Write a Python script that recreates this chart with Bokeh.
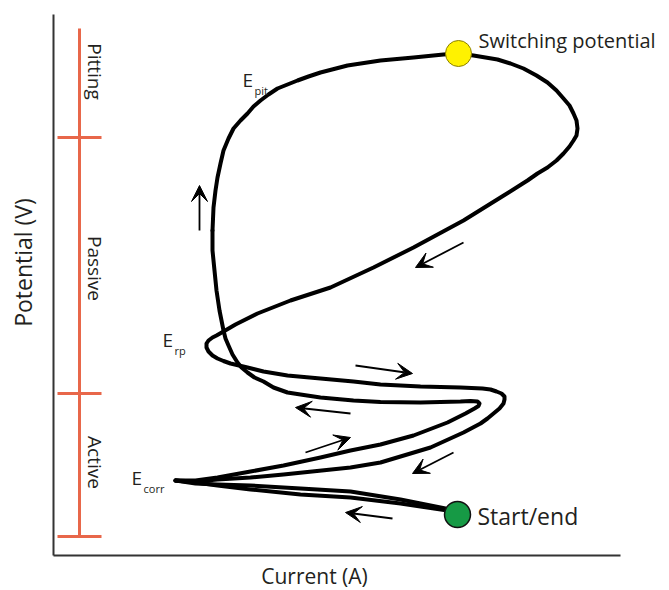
import math
from bokeh.plotting import figure
from bokeh.models import Range1d, Arrow, VeeHead
from bokeh.core.properties import value
from bokeh.embed import file_html
from bokeh.resources import INLINE

# ---- schematic data (current, potential in arbitrary units) ----
forward_start_i = [447, 420, 400, 350, 300, 250, 217, 195, 175]
forward_start_e = [80, 84, 87, 93, 96, 101, 105, 108, 110]

forward_active_i = [175, 195, 217, 250, 283, 320, 350, 380, 413, 447, 465, 474, 478, 479, 477, 470, 460,
                    420, 380, 353, 320, 300, 287, 273, 263, 254, 247, 241, 237, 232, 228, 225, 223,
                    219, 216, 214, 212, 212]
forward_active_e = [110, 110, 113, 119, 125, 133, 140, 146, 155, 168, 177, 182, 184.5, 187, 189, 189.5, 189,
                    188, 188.5, 190, 193, 196, 198, 203, 209, 213, 218, 223, 228, 236, 245, 252, 260,
                    280, 300, 320, 340, 360]

forward_pit_i = [212, 213, 215, 217, 220, 223, 228, 233, 240, 247, 253, 260, 268, 277, 287, 297, 308,
                 320, 347, 380, 413, 443, 458]
forward_pit_e = [360, 383, 400, 413, 427, 440, 452, 462, 470, 477, 484, 490, 496, 502, 506, 510, 514,
                 518, 525, 530, 533, 536, 537]

reverse_i = [458, 473, 485, 497, 510, 523, 536, 547, 556, 563, 569, 573, 576, 577, 576, 573, 569, 563,
             556, 547, 537, 527, 500, 463, 413, 373, 330, 290, 257, 235, 223, 216, 212, 208, 206, 206,
             208, 212, 217, 223, 230, 247, 263, 287, 320, 353, 380, 420, 460, 482, 490, 496, 501, 504,
             504, 503, 499, 493, 487, 480, 463, 430, 380, 350, 283, 250, 217, 195, 175]
reverse_e = [537, 535, 533, 531, 527, 522, 515, 508, 500, 492, 485, 477, 470, 462, 455, 450, 444, 437,
             430, 423, 417, 410, 393, 370, 343, 323, 303, 290, 277, 266, 259, 255, 253, 250, 247, 243,
             239, 235, 232, 229.5, 227, 223, 219, 215, 212, 209, 206, 204, 203, 202, 201, 199, 197, 194,
             191, 187, 182, 177, 172, 167, 158, 143, 128, 123, 116, 113, 111, 109, 110]

end_i = [175, 195, 217, 250, 300, 350, 400, 445]
end_e = [110, 107, 106, 105, 102, 99, 91, 82]

# arrows: start/end points
arrow_x0 = [199, 463, 355, 350, 305, 453, 392]
arrow_y0 = [360, 348, 225, 177, 138, 138, 72]
arrow_x1 = [199, 415, 412, 295, 350, 412, 345]
arrow_y1 = [405, 323, 217, 183, 153, 117, 78]

# region scale bar
region_bar_x = 79
region_bar_top = 562
region_ticks = [453, 197, 54]
region_names = ["Pitting", "Passive", "Active"]
region_label_y = [519, 322, 128]

# markers
switch_pt = (458, 537)
start_pt = (457, 76)

# axes
axis_origin = (53, 35)
axis_x_end = 620
axis_y_end = 576

FONT = "Open Sans"
TXT = "#231f20"

p = figure(width=669, height=590, x_range=Range1d(0, 669), y_range=Range1d(0, 590),
           output_backend="svg", toolbar_location=None,
           x_axis_type=None, y_axis_type=None, min_border=0)
p.grid.visible = False
p.outline_line_color = None
p.background_fill_color = "white"

# axes lines
p.line([axis_origin[0], axis_origin[0]], [axis_origin[1], axis_y_end], line_color="#333333", line_width=2)
p.line([axis_origin[0], axis_x_end], [axis_origin[1], axis_origin[1]], line_color="#333333", line_width=2)

# red region bar
RED = "#E8674A"
p.line([region_bar_x, region_bar_x], [region_ticks[-1], region_bar_top], line_color=RED, line_width=3)
for ty in region_ticks:
    p.line([region_bar_x - 22, region_bar_x + 22], [ty, ty], line_color=RED, line_width=3)
p.text(x=[94] * 3, y=region_label_y, text=region_names, angle=-math.pi / 2,
       text_font=value(FONT), text_font_size="19px", text_color=TXT,
       text_align="center", text_baseline="middle")

# axis titles
p.text(x=[22], y=[328], text=["Potential (V)"], angle=math.pi / 2, text_font=value(FONT),
       text_font_size="23px", text_color=TXT, text_align="center", text_baseline="middle")
p.text(x=[314], y=[15], text=["Current (A)"], text_font=value(FONT),
       text_font_size="21px", text_color=TXT, text_align="center", text_baseline="middle")

# curve
for xs, ys in [(forward_start_i, forward_start_e), (forward_active_i, forward_active_e),
               (forward_pit_i, forward_pit_e), (reverse_i, reverse_e), (end_i, end_e)]:
    p.line(xs, ys, line_color="black", line_width=4, line_join="round", line_cap="round")

# arrows
for x0, y0, x1, y1 in zip(arrow_x0, arrow_y0, arrow_x1, arrow_y1):
    p.add_layout(Arrow(end=VeeHead(size=16, fill_color="black", line_color="black"),
                       x_start=x0, y_start=y0, x_end=x1, y_end=y1,
                       line_color="black", line_width=1.8))

# markers
p.scatter([switch_pt[0]], [switch_pt[1]], size=26, fill_color="#FFF200", line_color="#8C8000", line_width=1)
p.scatter([start_pt[0]], [start_pt[1]], size=26, fill_color="#169A45", line_color="#111111", line_width=1.5)

# labels
p.text(x=[478], y=[550], text=["Switching potential"], text_font=value(FONT), text_font_size="20px",
       text_color=TXT, text_align="left", text_baseline="middle")
p.text(x=[477], y=[75], text=["Start/end"], text_font=value(FONT), text_font_size="23px",
       text_color=TXT, text_align="left", text_baseline="middle")

# E labels with subscripts
E_x = [242, 162, 131]
E_y = [511, 251, 113]
E_sub = ["pit", "rp", "corr"]
p.text(x=E_x, y=E_y, text=["E"] * 3, text_font=value(FONT), text_font_size="19px",
       text_color=TXT, text_align="left", text_baseline="middle")
p.text(x=[x + 12 for x in E_x], y=[y - 11 for y in E_y], text=E_sub, text_font=value(FONT),
       text_font_size="11px", text_color=TXT, text_align="left", text_baseline="middle")

open("out.html", "w").write(file_html(p, INLINE))
